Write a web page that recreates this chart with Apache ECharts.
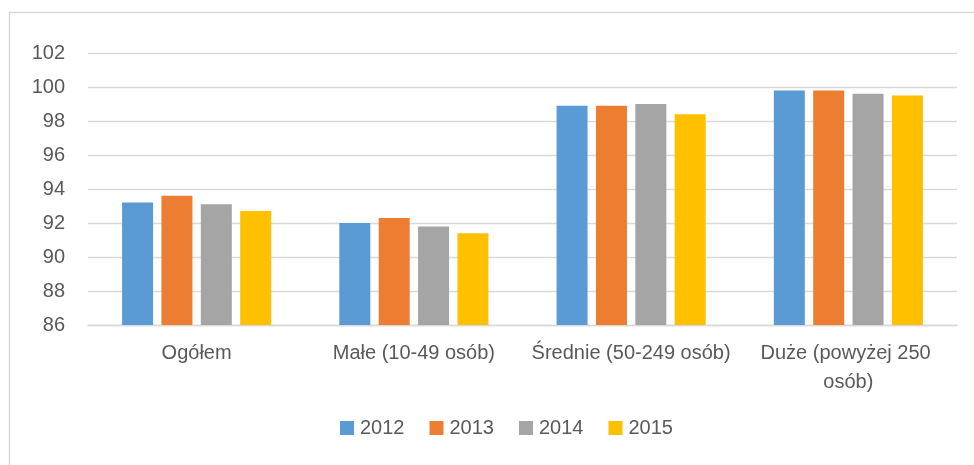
<!DOCTYPE html>
<html>
<head>
<meta charset="utf-8">
<script src="https://cdn.jsdelivr.net/npm/echarts@6/dist/echarts.min.js"></script>
<style>
html,body{margin:0;padding:0;background:#fff;}
#chart{width:974px;height:465px;}
</style>
</head>
<body>
<div id="chart"></div>
<script>
const categories = ["Ogółem", "Małe (10-49 osób)", "Średnie (50-249 osób)", "Duże (powyżej 250 osób)"];
const years = ["2012", "2013", "2014", "2015"];
const values2012 = [93.2, 92.0, 98.9, 99.8];
const values2013 = [93.6, 92.3, 98.9, 99.8];
const values2014 = [93.1, 91.8, 99.0, 99.6];
const values2015 = [92.7, 91.4, 98.4, 99.5];
const colors = ["#5B9BD5", "#ED7D31", "#A5A5A5", "#FFC000"];
const allValues = [values2012, values2013, values2014, values2015];

const FONT = "'Liberation Sans', Arial, sans-serif";
const chart = echarts.init(document.getElementById('chart'), null, {renderer: 'canvas'});
chart.setOption({
  animation: false,
  backgroundColor: '#ffffff',
  graphic: [{
    type: 'rect',
    shape: {x: 9.5, y: 12.5, width: 1000, height: 500},
    style: {fill: 'none', stroke: '#d9d9d9', lineWidth: 1.5},
    silent: true
  }],
  grid: {left: 88, right: 17, top: 53, bottom: 140, containLabel: false},
  legend: {
    data: years,
    left: 335,
    top: 413,
    itemWidth: 14,
    itemHeight: 14,
    itemGap: 25,
    icon: 'rect',
    textStyle: {fontFamily: FONT, fontSize: 20, color: '#595959', padding: [0, 0, 0, 1]}
  },
  xAxis: {
    type: 'category',
    data: categories,
    axisLine: {show: true, lineStyle: {color: '#d9d9d9', width: 1.3}},
    axisTick: {show: false},
    axisLabel: {
      fontFamily: FONT, fontSize: 20, color: '#595959',
      margin: 14, lineHeight: 29, interval: 0,
      width: 216, overflow: 'break'
    }
  },
  yAxis: {
    type: 'value',
    min: 86, max: 102, interval: 2,
    axisLine: {show: false},
    axisTick: {show: false},
    splitLine: {lineStyle: {color: '#d9d9d9', width: 1.3}},
    axisLabel: {fontFamily: FONT, fontSize: 20, color: '#595959', margin: 23}
  },
  series: years.map((y, i) => ({
    name: y,
    type: 'bar',
    data: allValues[i],
    barWidth: 31,
    barGap: '27%',
    itemStyle: {color: colors[i]}
  }))
});
</script>
</body>
</html>
